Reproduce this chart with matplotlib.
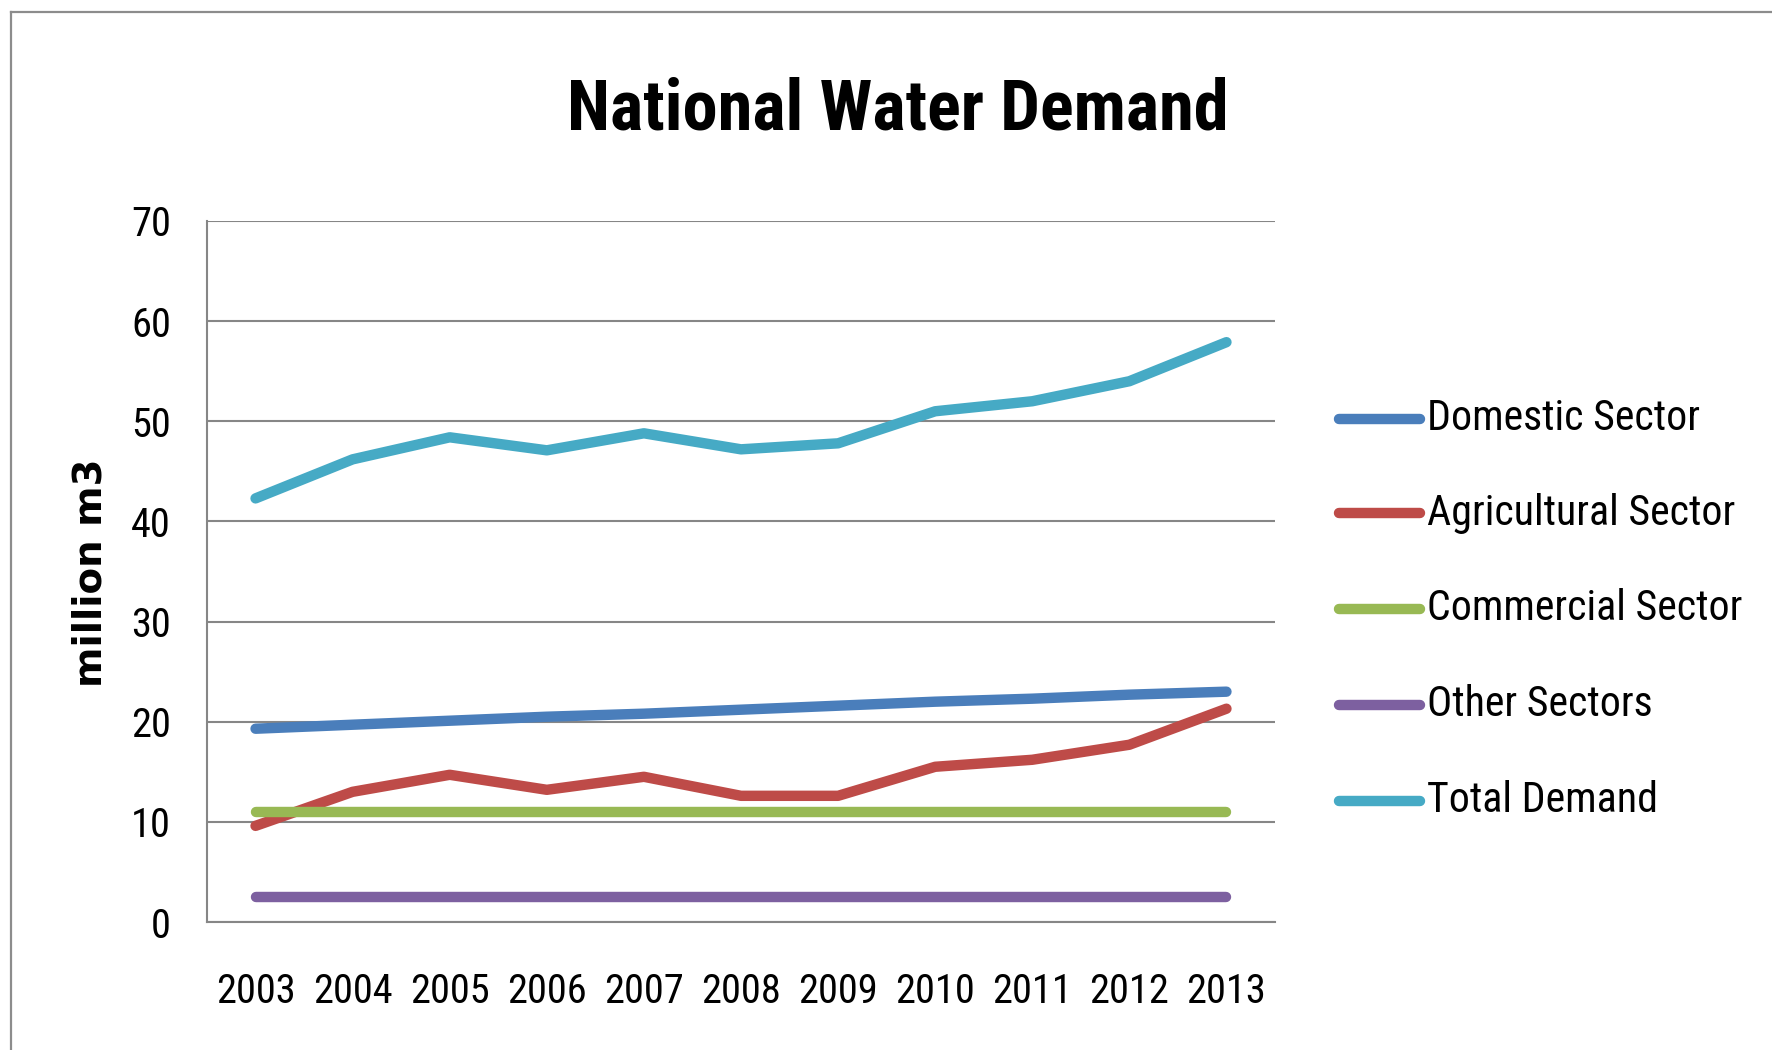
import numpy as np
import matplotlib
matplotlib.use("Agg")
import matplotlib.pyplot as plt
from matplotlib.lines import Line2D
from matplotlib import font_manager

# ── Data ──────────────────────────────────────────────────────────────────────
years = ["2003", "2004", "2005", "2006", "2007", "2008",
         "2009", "2010", "2011", "2012", "2013"]

domestic     = [19.3, 19.7, 20.1, 20.5, 20.8, 21.2, 21.6, 22.0, 22.3, 22.7, 23.0]
agricultural = [9.6, 13.0, 14.7, 13.2, 14.5, 12.6, 12.6, 15.5, 16.2, 17.7, 21.3]
commercial   = [11.0, 11.0, 11.0, 11.0, 11.0, 11.0, 11.0, 11.0, 11.0, 11.0, 11.0]
other        = [2.5, 2.5, 2.5, 2.5, 2.5, 2.5, 2.5, 2.5, 2.5, 2.5, 2.5]
total        = [42.3, 46.2, 48.4, 47.1, 48.8, 47.2, 47.8, 51.0, 52.0, 54.0, 57.9]

series_names = ["Domestic Sector", "Agricultural Sector", "Commercial Sector",
                "Other Sectors", "Total Demand"]

# Excel 2007 palette
BLUE   = "#4A7EBB"
RED    = "#BE4B48"
GREEN  = "#98B954"
PURPLE = "#7D60A0"
TEAL   = "#46AAC5"
GRID   = "#868686"

# closest installed stand-in for Calibri
_names = {f.name for f in font_manager.fontManager.ttflist}
NARROW = next((n for n in ["Roboto Condensed", "Liberation Sans Narrow", "Lato",
                           "Roboto", "Liberation Sans"] if n in _names), "DejaVu Sans")

W, H = 1772, 1050
fig = plt.figure(figsize=(W / 100, H / 100), dpi=100)
fig.patch.set_facecolor("white")
renderer = fig.canvas.get_renderer()


def fit(txt, width_px):
    """Scale a text's font size so its rendered width is width_px."""
    w = txt.get_window_extent(renderer).width
    txt.set_fontsize(txt.get_fontsize() * width_px / w)


# chart-area frame (top and left edges visible)
fig.add_artist(Line2D([11 / W, 11 / W], [0, 1 - 12 / H], color="#8c8c8c", lw=1.6))
fig.add_artist(Line2D([11 / W, 1], [1 - 12 / H, 1 - 12 / H], color="#8c8c8c", lw=1.6))

ax = fig.add_axes([207 / W, 1 - 922 / H, (1275 - 207) / W, (922 - 221) / H])

x = np.arange(len(years))
lw = 7.5
ax.plot(x, domestic, color=BLUE, lw=lw, solid_capstyle="round", zorder=3)
ax.plot(x, agricultural, color=RED, lw=lw, solid_capstyle="round", zorder=3)
ax.plot(x, commercial, color=GREEN, lw=lw, solid_capstyle="round", zorder=3)
ax.plot(x, other, color=PURPLE, lw=lw, solid_capstyle="round", zorder=3)
ax.plot(x, total, color=TEAL, lw=lw, solid_capstyle="round", zorder=3)

ax.set_xlim(-0.5, len(years) - 0.5)
ax.set_ylim(0, 70)
ax.set_yticks(range(0, 71, 10))
ax.set_xticks(x)
ax.set_xticklabels(years)

ax.grid(axis="y", color=GRID, lw=1.5, zorder=1)
ax.set_axisbelow(True)
for s in ["top", "right"]:
    ax.spines[s].set_visible(False)
for s in ["left", "bottom"]:
    ax.spines[s].set_color(GRID)
    ax.spines[s].set_linewidth(1.5)

ax.tick_params(axis="both", length=0, labelsize=30)
ax.tick_params(axis="y", pad=26)
ax.tick_params(axis="x", pad=36)
for lab in ax.get_xticklabels() + ax.get_yticklabels():
    lab.set_family(NARROW)

# size tick labels from measured widths in the reference
probe = fig.text(0, 0, "2003", fontsize=30, family=NARROW)
fit(probe, 80)
tick_size = probe.get_fontsize()
probe.remove()
ax.tick_params(axis="both", labelsize=tick_size)

ylab = fig.text(90 / W, 1 - 573 / H, "million m3", rotation=90, ha="center",
                va="center", fontsize=23, fontweight="bold", family="DejaVu Sans")
h = ylab.get_window_extent(renderer).height
ylab.set_fontsize(23 * 229 / h)

title = fig.text(898 / W, 1 - 129 / H, "National Water Demand", ha="center",
                 va="baseline", fontsize=56, fontweight="bold", family=NARROW)
fit(title, 661)

# legend, drawn by hand to match Excel spacing
colors = [BLUE, RED, GREEN, PURPLE, TEAL]
leg_y = [419, 513, 609, 705, 801]
leg_texts = []
for name, c, yy in zip(series_names, colors, leg_y):
    fy = 1 - yy / H
    fig.add_artist(Line2D([1339 / W, 1420 / W], [fy, fy], color=c, lw=lw,
                          solid_capstyle="round"))
    leg_texts.append(fig.text(1427 / W, fy, name, ha="left", va="center",
                              fontsize=33, family=NARROW))
fit(leg_texts[2], 315)
for t in leg_texts:
    t.set_fontsize(leg_texts[2].get_fontsize())

fig.savefig("out.png", dpi=100)
